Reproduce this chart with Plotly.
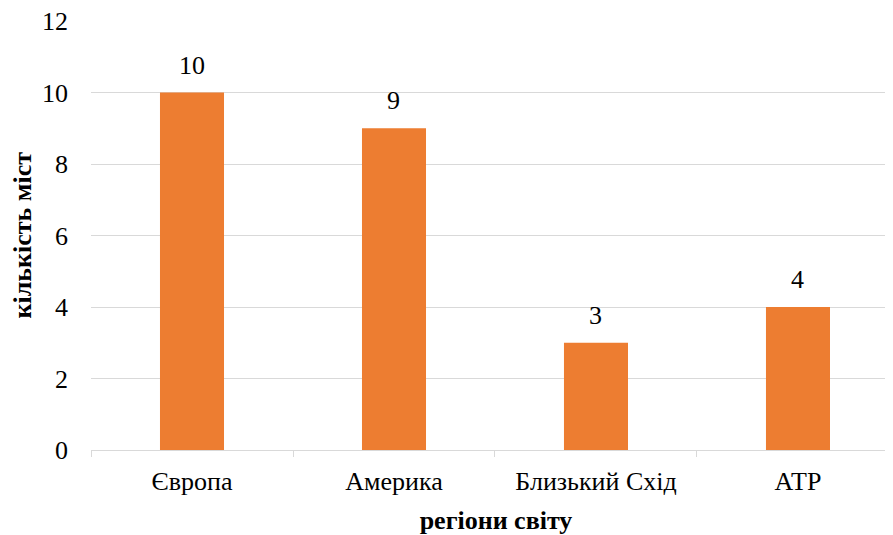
import plotly.graph_objects as go

categories = ["Європа", "Америка", "Близький Схід", "АТР"]
values = [10, 9, 3, 4]
y_ticks = [0, 2, 4, 6, 8, 10, 12]

font_family = "'Times New Roman', 'Liberation Serif', serif"
fs = 26

fig = go.Figure(go.Bar(
    x=categories, y=values, width=0.317,
    marker=dict(color="#ED7D31", line=dict(width=0)),
))

for c, v in zip(categories, values):
    fig.add_annotation(x=c, y=v, text=str(v), showarrow=False,
                       yanchor="bottom", yshift=11,
                       font=dict(family=font_family, size=fs, color="#000000"))

fig.add_annotation(xref="paper", yref="paper", x=0, y=0.5, xanchor="center", yanchor="middle",
                   xshift=-69, text="<b>кількість міст</b>", textangle=-90, showarrow=False,
                   font=dict(family=font_family, size=fs, color="#000000"))

fig.update_layout(
    width=893, height=535,
    margin=dict(l=83, r=0, t=13, b=93),
    paper_bgcolor="white", plot_bgcolor="white",
    showlegend=False,
    font=dict(family=font_family, size=fs, color="#000000"),
    xaxis=dict(
        range=[-0.5, 3.51], showgrid=False,
        showline=True, linecolor="#d9d9d9", linewidth=1,
        ticks="outside", tickson="boundaries", ticklen=6, tickcolor="#d9d9d9",
        tickfont=dict(family=font_family, size=fs),
        ticklabelstandoff=8,
        title=dict(text="<b>регіони світу</b>", font=dict(family=font_family, size=fs), standoff=15),
        automargin=False,
    ),
    yaxis=dict(
        range=[0, 12], tickvals=y_ticks, showline=False, zeroline=False,
        showgrid=True, gridcolor="#d9d9d9", gridwidth=1,
        tickfont=dict(family=font_family, size=fs),
        ticklabelstandoff=22, ticklabeloverflow="allow",
        automargin=False,
    ),
)

fig.write_html("out.html")
